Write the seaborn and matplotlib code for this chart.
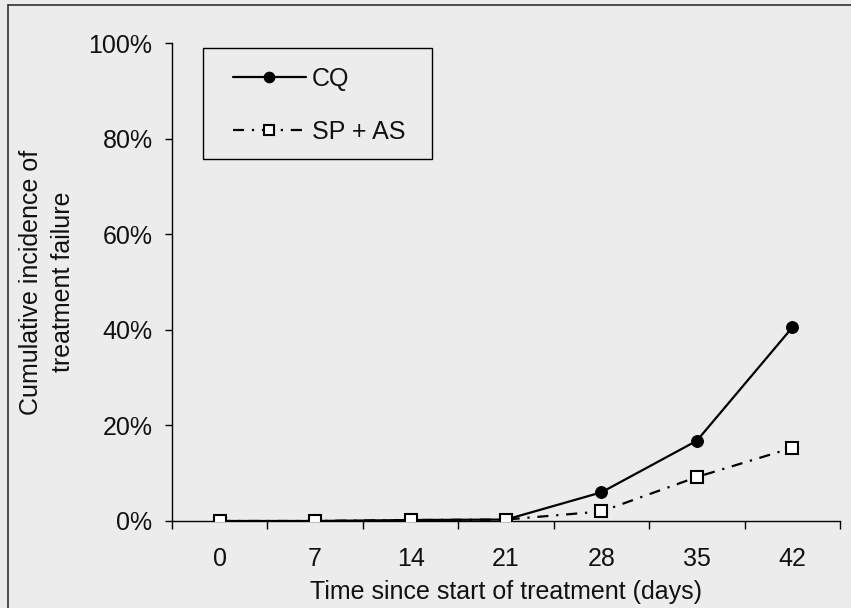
import numpy as np
import pandas as pd
import matplotlib
matplotlib.use("Agg")
import matplotlib.pyplot as plt
import seaborn as sns
from matplotlib.lines import Line2D
from matplotlib.patches import Rectangle
from matplotlib.ticker import FuncFormatter

# ---- data ----
days = [0, 7, 14, 21, 28, 35, 42]
cq = [0.0, 0.0, 0.2, 0.3, 6.0, 16.8, 40.5]
sp_as = [0.0, 0.0, 0.2, 0.3, 2.0, 9.2, 15.3]
series_names = ["CQ", "SP + AS"]
y_ticks = [0, 20, 40, 60, 80, 100]

df = pd.DataFrame({
    "day": days * 2,
    "value": cq + sp_as,
    "series": [series_names[0]] * len(days) + [series_names[1]] * len(days),
})

sns.set_theme(style="ticks")
plt.rcParams["font.family"] = ["Liberation Sans", "DejaVu Sans"]

FS = 18
W, H = 851, 608
bg = "#ececec"
fig = plt.figure(figsize=(W / 100, H / 100), dpi=100, facecolor=bg)
ax = fig.add_axes([0.2021, 0.1431, 0.785, 0.786])
ax.set_facecolor(bg)

d_cq = df[df.series == series_names[0]]
d_sp = df[df.series == series_names[1]]
sns.lineplot(data=d_sp, x="day", y="value", ax=ax, color="black", lw=1.6,
             marker="s", markersize=8, markerfacecolor="white",
             markeredgecolor="black", markeredgewidth=1.5,
             dashes=False, label=series_names[1], zorder=3)
ax.lines[-1].set_linestyle((0, (5, 3.5, 1, 3.5)))
sns.lineplot(data=d_cq, x="day", y="value", ax=ax, color="black", lw=1.6,
             marker="o", markersize=8.5, markerfacecolor="black",
             markeredgecolor="black", label=series_names[0], zorder=2)

ax.set_xlim(-3.5, 45.5)
ax.set_ylim(0, 100)
ax.set_yticks(y_ticks)
ax.yaxis.set_major_formatter(FuncFormatter(lambda v, p: f"{int(v)}%"))
ax.set_xticks(days)
ax.set_xticks(np.arange(-3.5, 46, 7), minor=True)
ax.tick_params(axis="x", which="major", length=0, pad=19, labelsize=FS, labelcolor="#111111")
ax.tick_params(axis="x", which="minor", length=6, width=1, direction="out", color="black")
ax.tick_params(axis="y", which="major", length=5, width=1, color="black", labelsize=FS,
               pad=9, labelcolor="#111111")
for s in ["top", "right"]:
    ax.spines[s].set_visible(False)
for s in ["left", "bottom"]:
    ax.spines[s].set_color("black")
    ax.spines[s].set_linewidth(1)

ax.set_xlabel("Time since start of treatment (days)", fontsize=FS, labelpad=6, color="#111111")
ax.set_ylabel("Cumulative incidence of\ntreatment failure", fontsize=FS, labelpad=10,
              color="#111111", linespacing=1.4)

handles, labels = ax.get_legend_handles_labels()
order = [labels.index(series_names[0]), labels.index(series_names[1])]
leg = ax.legend([handles[i] for i in order], [labels[i] for i in order],
                loc="upper left", bbox_to_anchor=(233 / W, 1 - 67 / H),
                bbox_transform=fig.transFigure, fontsize=FS,
                frameon=False, handlelength=2.9, borderpad=0, labelspacing=1.15,
                handletextpad=0.25, borderaxespad=0, markerscale=0.9)
for t in leg.get_texts():
    t.set_color("#111111")
# legend box (as in the reference, wider than the legend content)
fig.add_artist(Rectangle((203 / W, 1 - 159 / H), (432 - 203) / W, (159 - 48) / H,
                         transform=fig.transFigure, fill=False, edgecolor="black", lw=1))

# outer scan frame
fig.add_artist(Line2D([0.0094, 0.0094], [0, 0.992], transform=fig.transFigure, color="#333333", lw=1.2))
fig.add_artist(Line2D([0.0094, 1], [0.992, 0.992], transform=fig.transFigure, color="#333333", lw=1.2))

fig.savefig("out.png", dpi=100, facecolor=bg)
